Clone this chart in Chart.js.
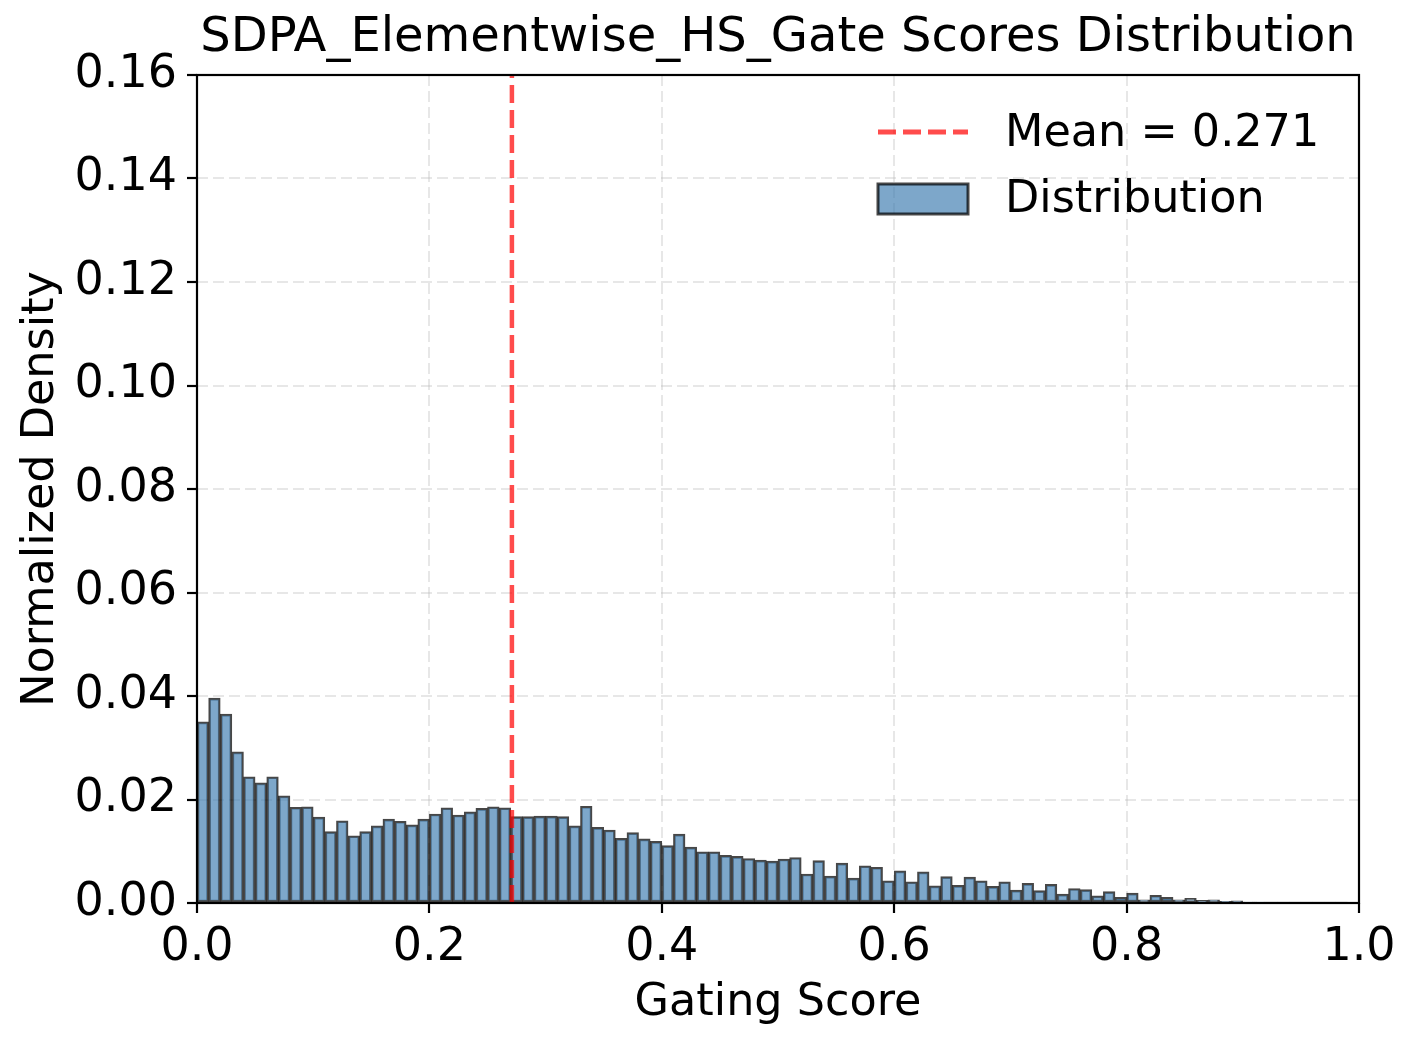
<!DOCTYPE html>
<html>
<head>
<meta charset="utf-8">
<script src="https://cdn.jsdelivr.net/npm/chart.js@4.4.1/dist/chart.umd.min.js"></script>
<style>
  body { margin: 0; background: #fff; }
  canvas { display: block; }
</style>
</head>
<body>
<canvas id="myChart" width="1411" height="1044"></canvas>
<script>
// histogram: 100 bins over [0, 1]
var binCount = 100;
var binMin = 0, binMax = 1;
var density = [
  0.0350, 0.0396, 0.0365, 0.0292, 0.0244, 0.0232, 0.0244, 0.0207, 0.0185, 0.0186,
  0.0166, 0.0138, 0.0159, 0.0130, 0.0138, 0.0149, 0.0162, 0.0158, 0.0151, 0.0162,
  0.0172, 0.0184, 0.0170, 0.0176, 0.0183, 0.0186, 0.0184, 0.0167, 0.0167, 0.0168,
  0.0168, 0.0167, 0.0149, 0.0187, 0.0146, 0.0141, 0.0125, 0.0136, 0.0124, 0.0119,
  0.0111, 0.0133, 0.0108, 0.0099, 0.0099, 0.0092, 0.0090, 0.0086, 0.0083, 0.0081,
  0.0085, 0.0088, 0.0056, 0.0082, 0.0052, 0.0077, 0.0048, 0.0072, 0.0069, 0.0043,
  0.0062, 0.0041, 0.0060, 0.0033, 0.0051, 0.0034, 0.0050, 0.0043, 0.0032, 0.0041,
  0.0025, 0.0038, 0.0024, 0.0036, 0.0017, 0.0028, 0.0026, 0.0014, 0.0022, 0.0011,
  0.0019, 0.0006, 0.0015, 0.0011, 0.0006, 0.0009, 0.0005, 0.0006, 0.0003, 0.0004,
  0.0002, 0.0002, 0.0001, 0.00008, 0.00005, 0.00003, 0.00002, 0.00001, 0.00001, 0
];
var meanValue = 0.271;
var yTicks = [0, 0.02, 0.04, 0.06, 0.08, 0.10, 0.12, 0.14, 0.16];
var xTicks = [0.0, 0.2, 0.4, 0.6, 0.8, 1.0];

var titleText = "SDPA_Elementwise_HS_Gate Scores Distribution";
var legendLabels = ["Mean = " + meanValue.toFixed(3), "Distribution"];

var FONT = "'DejaVu Sans', 'Liberation Sans', sans-serif";
var barFill = "rgba(70, 130, 180, 0.7)";
var barEdge = "rgba(0, 0, 0, 0.72)";
var meanColor = "rgba(255, 0, 0, 0.7)";

var histPoints = density.map(function (v, i) {
  var w = (binMax - binMin) / binCount;
  return { x: binMin + (i + 0.5) * w, y: v };
});

// frame, title and legend drawn like matplotlib does
var extras = {
  id: 'extras',
  afterDraw: function (chart) {
    var ctx = chart.ctx;
    var a = chart.chartArea;
    ctx.save();
    ctx.strokeStyle = '#000';
    ctx.lineWidth = 2.2;
    ctx.strokeRect(a.left, a.top, a.right - a.left, a.bottom - a.top);

    ctx.fillStyle = '#000';
    ctx.font = "48px " + FONT;
    ctx.textAlign = 'center';
    ctx.textBaseline = 'middle';
    ctx.fillText(titleText, (a.left + a.right) / 2, 39);

    // legend
    var lx = a.right - 481, tx = a.right - 354;
    ctx.strokeStyle = meanColor;
    ctx.lineWidth = 5;
    ctx.setLineDash([18, 7]);
    ctx.beginPath();
    ctx.moveTo(lx, 132);
    ctx.lineTo(lx + 90, 132);
    ctx.stroke();
    ctx.setLineDash([]);
    ctx.fillStyle = barFill;
    ctx.fillRect(lx, 184, 90, 30);
    ctx.strokeStyle = barEdge;
    ctx.lineWidth = 3;
    ctx.strokeRect(lx, 184, 90, 30);
    ctx.fillStyle = '#000';
    ctx.textAlign = 'left';
    ctx.font = "44.5px " + FONT;
    ctx.fillText(legendLabels[0], tx, 134);
    ctx.fillText(legendLabels[1], tx, 200);
    ctx.restore();
  }
};

new Chart("myChart", {
  data: {
    datasets: [{
      type: 'line',
      label: legendLabels[0],
      data: [{ x: meanValue, y: yTicks[0] }, { x: meanValue, y: yTicks[yTicks.length - 1] }],
      borderColor: meanColor,
      borderWidth: 4.5,
      borderDash: [18, 7],
      pointRadius: 0,
      fill: false,
      order: 0
    }, {
      type: 'bar',
      label: legendLabels[1],
      data: histPoints,
      backgroundColor: barFill,
      borderColor: barEdge,
      borderWidth: 2,
      borderSkipped: false,
      barPercentage: 1,
      categoryPercentage: 1,
      order: 1
    }]
  },
  plugins: [extras],
  options: {
    responsive: false,
    animation: false,
    devicePixelRatio: 1,
    layout: { padding: { top: 75, right: 52, left: 0, bottom: 0 } },
    plugins: {
      legend: { display: false },
      title: { display: false },
      tooltip: { enabled: false }
    },
    scales: {
      x: {
        type: 'linear',
        min: 0,
        max: 1,
        offset: false,
        afterFit: function (s) { s.height = 141; },
        afterBuildTicks: function (s) { s.ticks = xTicks.map(function (v) { return { value: v }; }); },
        ticks: {
          color: '#000',
          font: { family: FONT, size: 46 },
          padding: 7,
          maxRotation: 0,
          callback: function (v) { return Number(v).toFixed(1); }
        },
        grid: {
          offset: false,
          color: 'rgba(176,176,176,0.3)',
          lineWidth: 2,
          tickColor: '#000',
          tickLength: 10,
          tickWidth: 2.2,
          tickBorderDash: []
        },
        border: { display: false, dash: [11, 5] },
        title: {
          display: true,
          text: 'Gating Score',
          color: '#000',
          font: { family: FONT, size: 44.5 },
          padding: { top: 0, bottom: 14 }
        }
      },
      y: {
        min: 0,
        max: 0.16,
        afterFit: function (s) { s.width = 197; },
        afterBuildTicks: function (s) { s.ticks = yTicks.map(function (v) { return { value: v }; }); },
        ticks: {
          color: '#000',
          font: { family: FONT, size: 46 },
          padding: 10,
          callback: function (v) { return Number(v).toFixed(2); }
        },
        grid: {
          color: 'rgba(176,176,176,0.3)',
          lineWidth: 2,
          tickColor: '#000',
          tickLength: 10,
          tickWidth: 2.2,
          tickBorderDash: []
        },
        border: { display: false, dash: [11, 5] },
        title: {
          display: true,
          text: 'Normalized Density',
          color: '#000',
          font: { family: FONT, size: 44.5 },
          padding: { top: 15, bottom: 0 }
        }
      }
    }
  }
});
</script>
</body>
</html>
